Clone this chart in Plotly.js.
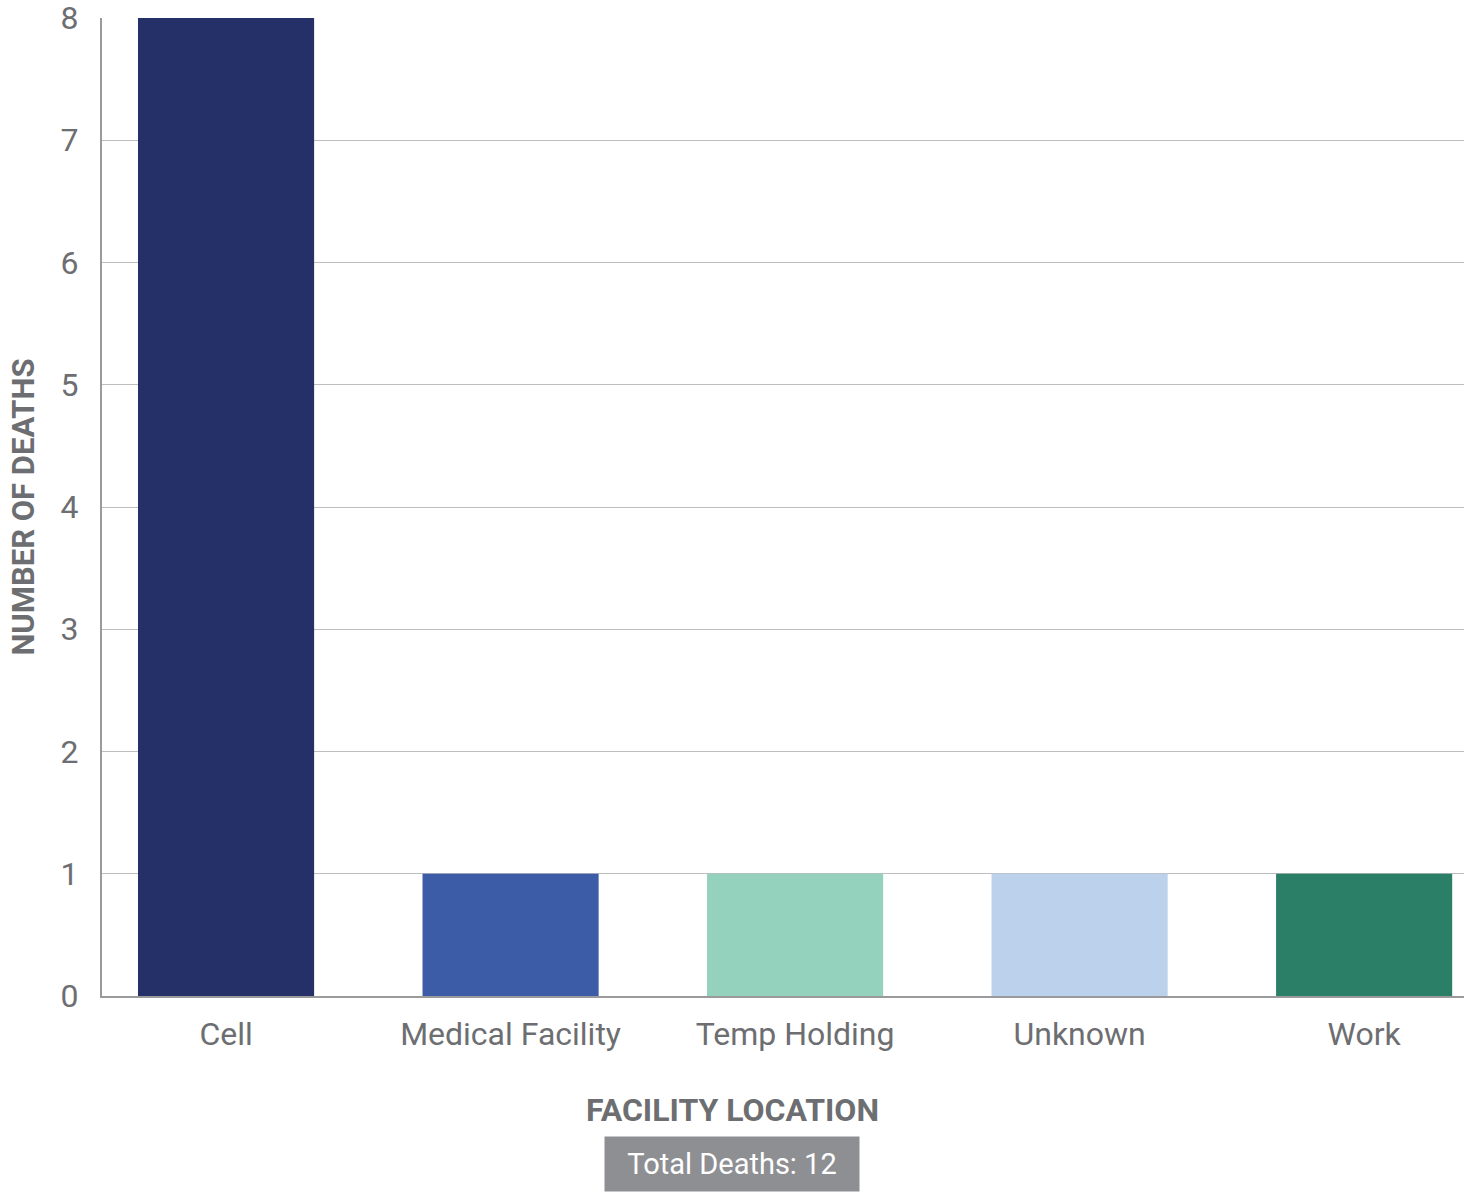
<!DOCTYPE html>
<html>
<head>
<meta charset="utf-8">
<script src="https://cdn.plot.ly/plotly-3.0.1.min.js"></script>
<style>
  html, body { margin: 0; padding: 0; background: #ffffff; }
  #chart { width: 1473px; height: 1192px; }
</style>
</head>
<body>
<div id="chart"></div>
<script>
const categories = ["Cell", "Medical Facility", "Temp Holding", "Unknown", "Work"];
const deaths = [8, 1, 1, 1, 1];
const barColors = ["#253068", "#3c5ca8", "#94d2bd", "#bcd1ec", "#2a7f66"];
const yTicks = [0, 1, 2, 3, 4, 5, 6, 7, 8];
const totalDeaths = deaths.reduce((a, b) => a + b, 0);

const FONT = "Roboto, 'Noto Sans', sans-serif";
const GREY = "#6d6e71";

const trace = {
  type: "bar",
  x: categories,
  y: deaths,
  marker: { color: barColors, line: { width: 0 } },
  hoverinfo: "x+y"
};

const layout = {
  width: 1473,
  height: 1192,
  margin: { l: 102, r: 9, t: 18, b: 196, pad: 0 },
  paper_bgcolor: "#ffffff",
  plot_bgcolor: "#ffffff",
  showlegend: false,
  bargap: 0.381,
  font: { family: FONT, color: GREY, size: 32 },
  xaxis: {
    type: "category",
    range: [-0.436, 4.351],
    showgrid: false,
    showline: true,
    linecolor: "#9a9a9c",
    linewidth: 2,
    ticks: "",
    tickfont: { family: FONT, size: 32, color: GREY },
    ticklabelstandoff: 9,
    zeroline: false
  },
  yaxis: {
    range: [0, 8],
    tickvals: yTicks,
    ticktext: yTicks.map(String),
    showgrid: true,
    gridcolor: "#bdbdbf",
    gridwidth: 1,
    showline: true,
    linecolor: "#9a9a9c",
    linewidth: 2,
    ticks: "",
    zeroline: false,
    ticklabeloverflow: "allow",
    tickfont: { family: FONT, size: 32, color: GREY },
    ticklabelstandoff: 15,
    title: {
      text: "NUMBER OF DEATHS",
      font: { family: FONT, size: 31, color: GREY, weight: "bold" },
      standoff: 17
    }
  },
  annotations: [
    {
      xref: "paper", yref: "paper",
      x: 0.4626, y: -0.1166,
      xanchor: "center", yanchor: "middle",
      text: "<b>FACILITY LOCATION</b>",
      showarrow: false,
      font: { family: FONT, size: 32, color: GREY }
    },
    {
      xref: "paper", yref: "paper",
      x: 0.4626, y: -0.1718,
      xanchor: "center", yanchor: "middle",
      text: "Total Deaths: " + totalDeaths,
      showarrow: false,
      bgcolor: "#8e8f93",
      width: 254,
      height: 54,
      borderpad: 0,
      font: { family: FONT, size: 29, color: "#ffffff" }
    }
  ]
};

Plotly.newPlot("chart", [trace], layout, { displayModeBar: false, responsive: false });
</script>
</body>
</html>
